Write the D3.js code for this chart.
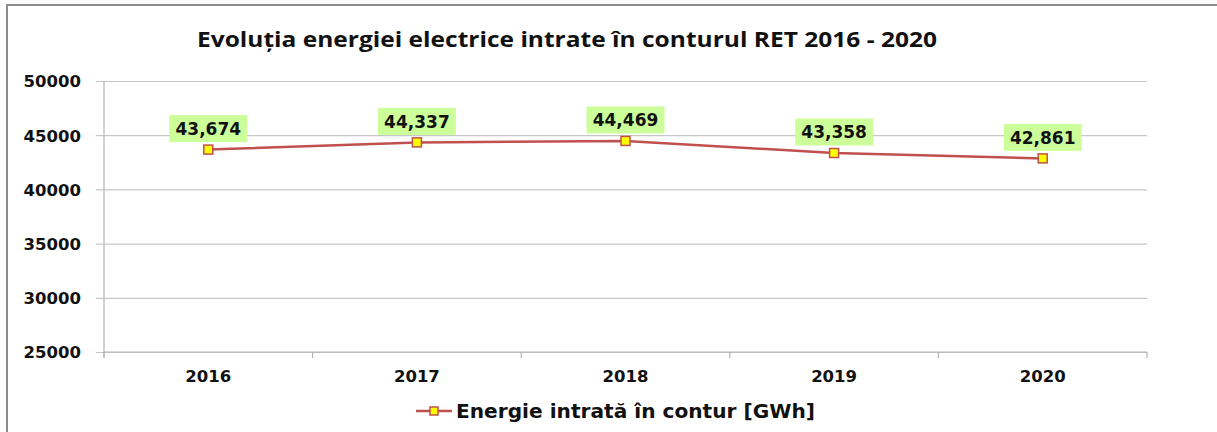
<!DOCTYPE html>
<html>
<head>
<meta charset="utf-8">
<script src="https://cdn.jsdelivr.net/npm/d3@7"></script>
<style>
  html, body { margin: 0; padding: 0; background: #fff; }
  svg { display: block; }
</style>
</head>
<body>
<svg class="js-chart" width="1217" height="432"></svg>
<script>
"use strict";

//data

const years = ["2016", "2017", "2018", "2019", "2020"];
const energy = [43674, 44337, 44469, 43358, 42861];
const yTicks = [25000, 30000, 35000, 40000, 45000, 50000];

const title = "Evoluția energiei electrice intrate în conturul RET 2016 - 2020";
const seriesName = "Energie intrată în contur [GWh]";

//layout

const w = 1217, h = 432;
const plot = { left: 104, right: 1147, top: 81, bottom: 352 };
const red = "#c0504d";
const boldFont = "'DejaVu Sans', Verdana, sans-serif";

const svg = d3.select(".js-chart");

//frame

svg.append("path")
  .attr("d", `M7,${h} V5 H${w}`)
  .attr("fill", "none")
  .attr("stroke", "#8c8c8c")
  .attr("stroke-width", 2);

//title

svg.append("text")
  .attr("x", 197)
  .attr("y", 47)
  .attr("font-family", "'Open Sans', Calibri, sans-serif")
  .attr("font-weight", "bold")
  .attr("font-size", 21)
  .attr("textLength", 740)
  .attr("lengthAdjust", "spacingAndGlyphs")
  .attr("fill", "#111")
  .text(title);

//scales

const x = d3.scaleBand()
  .domain(years)
  .range([plot.left, plot.right])
  .padding(0);

const y = d3.scaleLinear()
  .domain([25000, 50000])
  .range([plot.bottom, plot.top]);

//grid + y axis

const yAxis = d3.axisLeft(y)
  .tickValues(yTicks)
  .tickFormat(d3.format("d"))
  .tickSize(-(plot.right - plot.left))
  .tickPadding(23);

const gy = svg.append("g")
  .attr("transform", `translate(${plot.left},0)`)
  .call(yAxis);

gy.select(".domain").remove();
gy.selectAll(".tick line")
  .attr("x1", -8)
  .attr("stroke", "#c6c6c6")
  .attr("stroke-width", 1.2);
gy.selectAll(".tick text")
  .attr("font-family", boldFont)
  .attr("font-weight", "bold")
  .attr("font-size", 16.5)
  .attr("fill", "#111")
  .attr("dy", "0.36em");

svg.append("line")
  .attr("x1", plot.left).attr("x2", plot.left)
  .attr("y1", plot.top).attr("y2", plot.bottom + 5)
  .attr("stroke", "#b4b4b4")
  .attr("stroke-width", 1.2);

//x axis

const xAxis = d3.axisBottom(x)
  .tickSize(0)
  .tickPadding(18);

const gx = svg.append("g")
  .attr("transform", `translate(0,${plot.bottom})`)
  .call(xAxis);

gx.select(".domain").remove();
gx.selectAll(".tick text")
  .attr("font-family", boldFont)
  .attr("font-weight", "bold")
  .attr("font-size", 16.5)
  .attr("fill", "#111");

//category boundary ticks

const bounds = years.map((d) => x(d) + x.bandwidth()).concat([plot.left]);

svg.append("g")
  .selectAll("line")
  .data(bounds)
  .enter()
  .append("line")
  .attr("x1", (d) => d).attr("x2", (d) => d)
  .attr("y1", plot.bottom).attr("y2", plot.bottom + 6)
  .attr("stroke", "#b4b4b4")
  .attr("stroke-width", 1.2);

svg.append("line")
  .attr("x1", plot.left).attr("x2", plot.right)
  .attr("y1", plot.bottom).attr("y2", plot.bottom)
  .attr("stroke", "#b4b4b4")
  .attr("stroke-width", 1.2);

//series

const cx = (d, i) => x(years[i]) + x.bandwidth() / 2;

const line = d3.line()
  .x(cx)
  .y((d) => y(d));

svg.append("path")
  .datum(energy)
  .attr("d", line)
  .attr("fill", "none")
  .attr("stroke", red)
  .attr("stroke-width", 2.5);

svg.append("g")
  .selectAll("rect")
  .data(energy)
  .enter()
  .append("rect")
  .attr("x", (d, i) => cx(d, i) - 4.5)
  .attr("y", (d) => y(d) - 4.5)
  .attr("width", 9)
  .attr("height", 9)
  .attr("fill", "#ffff00")
  .attr("stroke", red)
  .attr("stroke-width", 1.5);

//data labels

const fmt = d3.format(",");

const labels = svg.append("g")
  .selectAll("g")
  .data(energy)
  .enter()
  .append("g")
  .attr("transform", (d, i) => `translate(${cx(d, i)},${y(d) - 21})`);

labels.append("rect")
  .attr("x", -39)
  .attr("y", -13.5)
  .attr("width", 78)
  .attr("height", 27)
  .attr("fill", "#ccff99");

labels.append("text")
  .attr("text-anchor", "middle")
  .attr("dy", "0.36em")
  .attr("font-family", boldFont)
  .attr("font-weight", "bold")
  .attr("font-size", 17)
  .attr("fill", "#111")
  .text((d) => fmt(d));

//legend

const legend = svg.append("g")
  .attr("transform", "translate(416,411)");

legend.append("line")
  .attr("x1", 0).attr("x2", 36)
  .attr("stroke", red)
  .attr("stroke-width", 2.5);

legend.append("rect")
  .attr("x", 14).attr("y", -4)
  .attr("width", 8).attr("height", 8)
  .attr("fill", "#ffff00")
  .attr("stroke", red)
  .attr("stroke-width", 1.5);

legend.append("text")
  .attr("x", 40)
  .attr("y", 7)
  .attr("font-family", "'DejaVu Sans', Arial, sans-serif")
  .attr("font-weight", "bold")
  .attr("font-size", 19)
  .attr("textLength", 359)
  .attr("lengthAdjust", "spacingAndGlyphs")
  .attr("fill", "#111")
  .text(seriesName);
</script>
</body>
</html>
